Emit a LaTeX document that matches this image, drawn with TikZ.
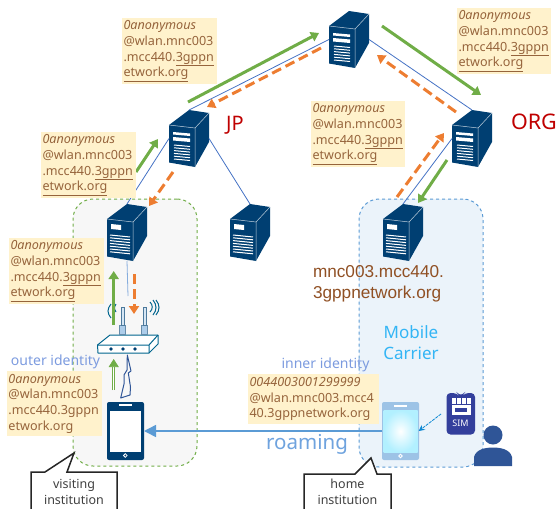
\documentclass[tikz,border=0pt]{standalone}
\usepackage{fontspec}
\setmainfont{Noto Sans}
\newfontfamily\arialf{Liberation Sans}
\usetikzlibrary{arrows.meta,calc,shapes.geometric}
\definecolor{navy}{HTML}{003F72}
\definecolor{lbl}{HTML}{FFF2CC}
\definecolor{lbltxt}{HTML}{96643C}
\definecolor{grn}{HTML}{70AD47}
\definecolor{org}{HTML}{ED7D31}
\definecolor{lnk}{HTML}{4472C4}
\definecolor{blu}{HTML}{5B9BD5}
\definecolor{idc}{HTML}{7C9BDF}
\definecolor{psn}{HTML}{2F5597}
\definecolor{simc}{HTML}{333F9C}
\definecolor{realmc}{HTML}{843C0C}
\definecolor{mcc}{HTML}{33B5F5}
\definecolor{rmc}{HTML}{6FA3DE}
\tikzset{
  x=1pt,y=-1pt,
  srv/.style={inset,minimum width=40pt,minimum height=57pt},
  inset/.style={inner sep=0pt,outer sep=0pt},
  link/.style={lnk,line width=0.8pt},
  garrow/.style={grn,line width=3pt,-{Triangle[length=8pt,width=10pt]}},
  oarrow/.style={org,line width=3pt,dash pattern=on 10pt off 5pt,-{Triangle[length=8pt,width=10pt]}},
  idlabel/.style={fill=lbl,inset,anchor=north west,text=lbltxt,font=\fontsize{12.6}{15.7}\selectfont,align=left,inner xsep=1.5pt,inner ysep=2.5pt},
  callout/.style={draw=black!85,line width=1.5pt,fill=white,line join=miter},
  calltext/.style={inset,text=black!75,font=\fontsize{12.5}{16}\selectfont,align=center},
}
% name, x, y, variant (1 = two bars, 0 = one small box)
\newcommand{\serverbox}[4]{%
  \begin{scope}[shift={(#2,#3)}]
    \fill[navy] (0,0) -- (20,-15) -- (40,-12) -- (40,17) -- (26,42) -- (0,37.5) -- cycle;
    \draw[white!75!navy,line width=0.5pt] (0,0) -- (26,3) -- (40,-12) (26,3) -- (26,42);
    \ifnum#4=1
      \fill[white] (4,7) -- (21,8.5) -- (21,11) -- (4,9.5) -- cycle;
      \fill[white] (4,12) -- (21,13.5) -- (21,17) -- (4,15.5) -- cycle;
      \foreach \s in {20,22.8,25.6,28.4,31.2,34}{\draw[white,line width=1pt] (5,\s) -- (21,\s+1.5);}
    \else
      \fill[white] (4,5) -- (14,6) -- (14,11) -- (4,10) -- cycle;
      \foreach \s in {16,18.8,21.6,24.4,27.2,30,32.8}{\draw[white,line width=1pt] (3,\s) -- (23,\s+2);}
    \fi
    \node[srv] (#1) at (20,13.5) {};
  \end{scope}}
\begin{document}
\begin{tikzpicture}
\useasboundingbox (0,0) rectangle (556,508);
\begin{scope}
\clip (0,0) rectangle (556,508);
% institutions
\node[inset,draw=grn,fill=black!3,line width=1pt,dashed,rounded corners=20pt,minimum width=124pt,minimum height=267pt] (visit) at (135,332.5) {};
\node[inset,draw=blu,fill=blu!12,line width=1pt,dashed,rounded corners=20pt,minimum width=124pt,minimum height=268pt] (home) at (421,333) {};
% servers
\serverbox{top}{329}{26}{1}
\serverbox{jp}{169}{125}{1}
\serverbox{orgs}{452}{125}{1}
\serverbox{left}{107}{219}{0}
\serverbox{mid}{230}{219}{0}
\serverbox{right}{383}{219}{0}
% router
\node[inset,minimum width=60pt,minimum height=58pt] (router) at (128,325) {};
\filldraw[fill=white,draw=navy!80!cyan,line width=1pt,line join=round] (97.5,345) -- (110,335) -- (158,335) -- (158,344) -- (149,353) -- (98,353) -- cycle;
\draw[navy!80!cyan,line width=1pt] (97.5,345) -- (149,345) -- (158,335) (149,345) -- (149,353);
\foreach \dx in {111,123,135}{\fill[navy] (\dx,349) circle (1.8);}
\foreach \ax in {119,141}{
  \filldraw[fill=blu!50!white,draw=navy!60,line width=0.6pt] (\ax,325) rectangle (\ax+6.5,334);
  \filldraw[fill=blu!25!white,draw=navy!70,line width=0.8pt] (\ax+2,307) rectangle (\ax+5,325);
}
\draw[navy!80!cyan,line width=1pt] (111,304) .. controls (107,309) and (107,313) .. (111,318);
\draw[navy!80!cyan,line width=1pt] (116,304) .. controls (114,307) and (114,309) .. (116,312);
\draw[navy!80!cyan,line width=1pt] (150,302) .. controls (153,305) and (153,309) .. (150,312);
\draw[navy!80!cyan,line width=1pt] (153,300) .. controls (157,305) and (157,310) .. (153,315);
\draw[navy!80!cyan,line width=1pt] (156,300) .. controls (160,305) and (160,310) .. (156,315);
% lightning
\draw[psn,line width=1pt,line join=round] (127.3,355) -- (131,371) -- (128.3,373) -- (130.5,387) -- (130,395) -- (120.7,398) -- (124,384) -- (124,375) -- (127,370) -- cycle;
% phones
\node[inset,fill=navy,rounded corners=2pt,minimum width=37pt,minimum height=58pt] (mobL) at (125.5,431) {};
\fill[white] (109.7,410.5) rectangle (141.3,452);
\fill[white] (119,404) rectangle (132,406);
\draw[white,line width=0.8pt] (125.3,455.5) circle (1.8);
\node[inset,fill=blu!60!white,rounded corners=2pt,minimum width=37pt,minimum height=58pt] (mobR) at (400.5,431) {};
\shade[inner color=white,outer color=blue!20!cyan!30!white] (383.5,410.5) rectangle (417.5,452);
\fill[white] (394,404.5) rectangle (407,406.5);
\draw[white,line width=0.8pt] (400.5,456) circle (1.8);
% SIM
\node[inset,minimum width=29pt,minimum height=41pt] (sim) at (460.5,413.5) {};
\fill[simc,rounded corners=4pt] (446.5,393) -- (457,393) -- (458.5,395) -- (463,395) -- (464.5,393) -- (475,393) -- (475,434.5) -- (446.5,434.5) -- cycle;
\foreach \gx in {453.5,458.5,463.5,468.5}{\fill[white] (\gx-2,398) rectangle (\gx+2,403.5);}
\fill[white] (451.5,404.5) rectangle (470.5,408);
\fill[white] (451.5,408) rectangle (455,415);
\fill[white] (467,408) rectangle (470.5,415);
\fill[white] (451.5,411.5) rectangle (470.5,415);
\fill[simc] (456.5,409.5) rectangle (465.5,411.5);
\node[inset,text=white,font=\bfseries\fontsize{9}{9}\selectfont] (simt) at (460.5,423) {SIM};
% person
\coordinate (pers) at (493,450);
\fill[psn] (493,435) circle (9.5);
\fill[psn] (474,466) -- (474,457) .. controls (476,449) and (486,447.5) .. (493,447.5) .. controls (500,447.5) and (510,449) .. (512,457) -- (512,466) -- cycle;
% links
\draw[link] (jp.north) -- (top.west);
\draw[link] (top.east) -- (orgs.north);
\draw[link] (orgs.west) -- (right.north);
\draw[link] (jp.west) -- (left.north);
\draw[link] (jp.east) -- (mid.north);
\draw[link,blu!60!lnk!70!white] (left.south) -- (router.north);
% arrow end points
\coordinate (g1a) at (188,102); \coordinate (g1b) at (319,33);
\coordinate (g2a) at (382,26);  \coordinate (g2b) at (481,95);
\coordinate (g3a) at (136,172); \coordinate (g3b) at (158,139);
\coordinate (g4a) at (447,160); \coordinate (g4b) at (418,203);
\coordinate (g5a) at (113.7,325); \coordinate (g5b) at (113.7,271);
\coordinate (g6a) at (113.7,390); \coordinate (g6b) at (113.7,359);
\coordinate (o1a) at (321,48);  \coordinate (o1b) at (207,107);
\coordinate (o2a) at (456,112); \coordinate (o2b) at (377,55);
\coordinate (o3a) at (397,197); \coordinate (o3b) at (444,133);
\coordinate (o4a) at (173,172); \coordinate (o4b) at (149,206);
\coordinate (o5a) at (134,274); \coordinate (o5b) at (134,314);
\coordinate (s1) at (441,414);  \coordinate (s2) at (418.7,431);
\draw[garrow] (g1a) -- (g1b);
\draw[garrow] (g2a) -- (g2b);
\draw[garrow] (g3a) -- (g3b);
\draw[garrow] (g4a) -- (g4b);
\draw[garrow] (g5a) -- (g5b);
\draw[grn,line width=0.7pt,double distance=1.4pt,-{Triangle[length=8pt,width=10pt]}] (g6a) -- (g6b);
\draw[oarrow] (o1a) -- (o1b);
\draw[oarrow] (o2a) -- (o2b);
\draw[oarrow] (o3a) -- (o3b);
\draw[oarrow] (o4a) -- (o4b);
\draw[oarrow] (o5a) -- (o5b);
\draw[cyan!70!blue,line width=0.8pt,dash pattern=on 3pt off 1pt,-{Stealth[length=6pt,width=6pt]}] (s1) -- (s2);
\draw[blu,line width=1.5pt,-{Triangle[length=12pt,width=12pt]}] (mobR.west) -- (mobL.east);
% labels
\newcommand{\anon}{\textit{0anonymous}\\@wlan.mnc003\\.mcc440.\underline{3gppn}\\\underline{etwork.org}}
\node[idlabel,minimum width=95pt,minimum height=65pt,text width=92pt] (l1) at (122,18) {\anon};
\node[idlabel,minimum width=95pt,minimum height=65pt,text width=92pt] (l2) at (41,132) {\anon};
\node[idlabel,minimum width=95pt,minimum height=65pt,text width=92pt] (l3) at (9,238) {\anon};
\node[idlabel,minimum width=94pt,minimum height=64pt,text width=91pt] (l4) at (457,8) {\anon};
\node[idlabel,minimum width=94pt,minimum height=65pt,text width=91pt] (l5) at (311,101) {\anon};
\node[idlabel,minimum width=95pt,minimum height=65pt,text width=92pt] (l6) at (7,371) {\textit{0anonymous}\\@wlan.mnc003\\.mcc440.3gppn\\etwork.org};
\node[idlabel,minimum width=131pt,minimum height=50pt,text width=128pt] (l7) at (248,374) {\textit{0044003001299999}\\@wlan.mnc003.mcc4\\40.3gppnetwork.org};
% texts
\node[inset,text=red!75!black,font=\fontsize{20}{20}\selectfont] (tjp) at (235,125) {JP};
\node[inset,text=red!75!black,font=\fontsize{21.5}{21}\selectfont,anchor=west] (torg) at (511,122) {ORG};
\node[inset,text=realmc!90!white,font=\arialf\fontsize{17.2}{21}\selectfont,align=left,anchor=north west] (realm) at (313,265) {mnc003.mcc440.\\3gppnetwork.org};
\node[inset,text=mcc,font=\fontsize{17}{21}\selectfont,align=center] (mc) at (411,342.5) {Mobile\\Carrier};
\node[inset,text=rmc,font=\fontsize{20.5}{20}\selectfont] (roam) at (307,444) {roaming};
\node[inset,text=idc,font=\fontsize{14}{14}\selectfont] (oi) at (55.5,362) {outer identity};
\node[inset,text=idc,font=\fontsize{14}{14}\selectfont] (ii) at (325.5,365) {inner identity};
% callouts
\coordinate (ct1) at (74,453);
\coordinate (ct2) at (371,458);
\draw[callout] (31,520) -- (31,472) -- (45,472) -- (ct1) -- (67,472) -- (117,472) -- (117,520);
\draw[callout] (304,520) -- (304,474) -- (355,474) -- (ct2) -- (377,474) -- (391,474) -- (391,520);
\node[calltext] (ctv) at (74,491.5) {visiting\\institution};
\node[calltext] (cth) at (347.5,492) {home\\institution};
\end{scope}
\end{tikzpicture}
\end{document}
